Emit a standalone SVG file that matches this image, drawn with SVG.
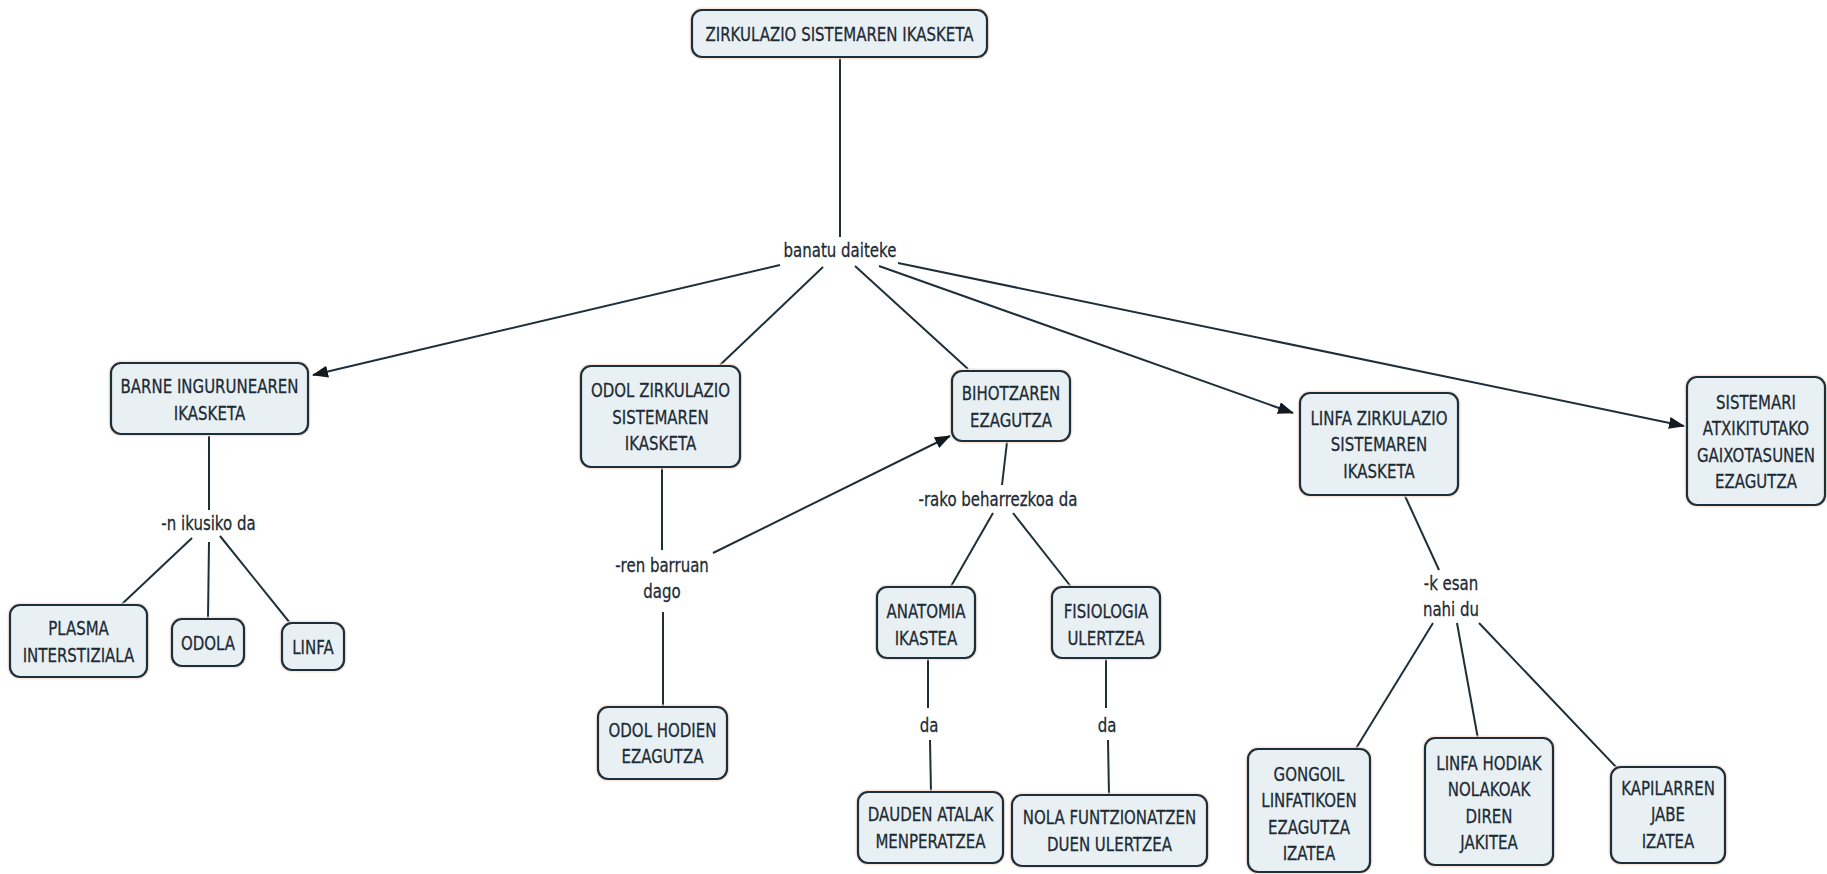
<svg xmlns="http://www.w3.org/2000/svg" width="1827" height="874" viewBox="0 0 1827 874">
  <style>
    .box { fill: #e8f0f4; stroke: #1d2f3a; stroke-width: 2.2; }
    .halo { fill: none; stroke: #f6dccf; stroke-width: 5; opacity: 0.7; }
    .t { font-family: "DejaVu Sans", "Liberation Sans", sans-serif; font-size: 20px; fill: #1c2a33; stroke: #1c2a33; stroke-width: 0.3; text-anchor: middle; }
    .c { fill: none; stroke: #1f2f38; stroke-width: 2; }
  </style>
  <defs>
    <marker id="arrow" markerUnits="userSpaceOnUse" markerWidth="16" markerHeight="12" viewBox="0 0 16 12" refX="15" refY="6" orient="auto">
      <path d="M0,0 L16,6 L0,12 z" fill="#111a20"/>
    </marker>
  </defs>
  <rect width="1827" height="874" fill="#ffffff"/>

  <!-- connectors -->
  <g id="connectors">
    <path class="c" d="M840,57 L840,237"/>
    <path class="c" d="M780,265 L313,375" marker-end="url(#arrow)"/>
    <path class="c" d="M823,267 L720,365"/>
    <path class="c" d="M855,266 L968,369"/>
    <path class="c" d="M879,266 L1293,413" marker-end="url(#arrow)"/>
    <path class="c" d="M898,263 L1684,426" marker-end="url(#arrow)"/>
    <path class="c" d="M209,436 L209,510"/>
    <path class="c" d="M192,538 L122,604"/>
    <path class="c" d="M209,542 L208,619"/>
    <path class="c" d="M220,536 L290,623"/>
    <path class="c" d="M662,468 L662,550"/>
    <path class="c" d="M663,612 L663,707"/>
    <path class="c" d="M713,553 L950,436" marker-end="url(#arrow)"/>
    <path class="c" d="M1007,442 L1002,485"/>
    <path class="c" d="M993,513 L950,588"/>
    <path class="c" d="M1013,513 L1072,588"/>
    <path class="c" d="M928,659 L928,708"/>
    <path class="c" d="M930,740 L931,793"/>
    <path class="c" d="M1106,659 L1106,708"/>
    <path class="c" d="M1108,740 L1109,796"/>
    <path class="c" d="M1405,496 L1439,570"/>
    <path class="c" d="M1433,623 L1355,750"/>
    <path class="c" d="M1457,623 L1478,739"/>
    <path class="c" d="M1479,623 L1617,768"/>
  </g>

  <!-- linking phrases -->
  <g id="link-banatu"><text class="t" transform="translate(840 257) scale(.75 1)">banatu daiteke</text></g>
  <g id="link-ikusiko"><text class="t" transform="translate(208.5 530) scale(.75 1)">-n ikusiko da</text></g>
  <g id="link-barruan"><text class="t" transform="translate(662 0) scale(.75 1)"><tspan x="0" y="572">-ren barruan</tspan><tspan x="0" y="598">dago</tspan></text></g>
  <g id="link-beharrezkoa"><text class="t" transform="translate(998 506) scale(.75 1)">-rako beharrezkoa da</text></g>
  <g id="link-da1"><text class="t" transform="translate(929 732) scale(.75 1)">da</text></g>
  <g id="link-da2"><text class="t" transform="translate(1107 732) scale(.75 1)">da</text></g>
  <g id="link-esan"><text class="t" transform="translate(1451 0) scale(.75 1)"><tspan x="0" y="590">-k esan</tspan><tspan x="0" y="616">nahi du</tspan></text></g>

  <!-- concepts -->
  <g id="n-zirkulazio">
    <rect class="halo" x="692" y="10" width="295" height="47" rx="10"/>
    <rect class="box" x="692" y="10" width="295" height="47" rx="10"/>
    <text class="t" transform="translate(839.5 41) scale(.75 1)">ZIRKULAZIO SISTEMAREN IKASKETA</text>
  </g>

  <g id="n-barne">
    <rect class="halo" x="111" y="363" width="197" height="71" rx="10"/>
    <rect class="box" x="111" y="363" width="197" height="71" rx="10"/>
    <text class="t" transform="translate(209.5 0) scale(.75 1)"><tspan x="0" y="393">BARNE INGURUNEAREN</tspan><tspan x="0" y="420">IKASKETA</tspan></text>
  </g>

  <g id="n-plasma">
    <rect class="halo" x="10" y="605" width="137" height="72" rx="10"/>
    <rect class="box" x="10" y="605" width="137" height="72" rx="10"/>
    <text class="t" transform="translate(78.5 0) scale(.75 1)"><tspan x="0" y="635">PLASMA</tspan><tspan x="0" y="662">INTERSTIZIALA</tspan></text>
  </g>

  <g id="n-odola">
    <rect class="halo" x="172" y="619" width="72" height="47" rx="10"/>
    <rect class="box" x="172" y="619" width="72" height="47" rx="10"/>
    <text class="t" transform="translate(208 650) scale(.75 1)">ODOLA</text>
  </g>

  <g id="n-linfa">
    <rect class="halo" x="282" y="623" width="62" height="47" rx="10"/>
    <rect class="box" x="282" y="623" width="62" height="47" rx="10"/>
    <text class="t" transform="translate(313 654) scale(.75 1)">LINFA</text>
  </g>

  <g id="n-odol-zirkulazio">
    <rect class="halo" x="581" y="366" width="159" height="101" rx="10"/>
    <rect class="box" x="581" y="366" width="159" height="101" rx="10"/>
    <text class="t" transform="translate(660.5 0) scale(.75 1)"><tspan x="0" y="397">ODOL ZIRKULAZIO</tspan><tspan x="0" y="424">SISTEMAREN</tspan><tspan x="0" y="450">IKASKETA</tspan></text>
  </g>

  <g id="n-odol-hodien">
    <rect class="halo" x="598" y="707" width="129" height="72" rx="10"/>
    <rect class="box" x="598" y="707" width="129" height="72" rx="10"/>
    <text class="t" transform="translate(662.5 0) scale(.75 1)"><tspan x="0" y="737">ODOL HODIEN</tspan><tspan x="0" y="763">EZAGUTZA</tspan></text>
  </g>

  <g id="n-bihotzaren">
    <rect class="halo" x="952" y="371" width="118" height="70" rx="10"/>
    <rect class="box" x="952" y="371" width="118" height="70" rx="10"/>
    <text class="t" transform="translate(1011 0) scale(.75 1)"><tspan x="0" y="400">BIHOTZAREN</tspan><tspan x="0" y="427">EZAGUTZA</tspan></text>
  </g>

  <g id="n-anatomia">
    <rect class="halo" x="877" y="587" width="98" height="71" rx="10"/>
    <rect class="box" x="877" y="587" width="98" height="71" rx="10"/>
    <text class="t" transform="translate(926 0) scale(.75 1)"><tspan x="0" y="618">ANATOMIA</tspan><tspan x="0" y="645">IKASTEA</tspan></text>
  </g>

  <g id="n-fisiologia">
    <rect class="halo" x="1052" y="587" width="108" height="71" rx="10"/>
    <rect class="box" x="1052" y="587" width="108" height="71" rx="10"/>
    <text class="t" transform="translate(1106 0) scale(.75 1)"><tspan x="0" y="618">FISIOLOGIA</tspan><tspan x="0" y="645">ULERTZEA</tspan></text>
  </g>

  <g id="n-dauden">
    <rect class="halo" x="858" y="792" width="145" height="71" rx="10"/>
    <rect class="box" x="858" y="792" width="145" height="71" rx="10"/>
    <text class="t" transform="translate(930.5 0) scale(.75 1)"><tspan x="0" y="821">DAUDEN ATALAK</tspan><tspan x="0" y="848">MENPERATZEA</tspan></text>
  </g>

  <g id="n-nola">
    <rect class="halo" x="1012" y="795" width="195" height="71" rx="10"/>
    <rect class="box" x="1012" y="795" width="195" height="71" rx="10"/>
    <text class="t" transform="translate(1109.5 0) scale(.75 1)"><tspan x="0" y="824">NOLA FUNTZIONATZEN</tspan><tspan x="0" y="851">DUEN ULERTZEA</tspan></text>
  </g>

  <g id="n-linfa-zirkulazio">
    <rect class="halo" x="1300" y="393" width="158" height="102" rx="10"/>
    <rect class="box" x="1300" y="393" width="158" height="102" rx="10"/>
    <text class="t" transform="translate(1379 0) scale(.75 1)"><tspan x="0" y="425">LINFA ZIRKULAZIO</tspan><tspan x="0" y="451.5">SISTEMAREN</tspan><tspan x="0" y="478">IKASKETA</tspan></text>
  </g>

  <g id="n-sistemari">
    <rect class="halo" x="1687" y="377" width="138" height="128" rx="10"/>
    <rect class="box" x="1687" y="377" width="138" height="128" rx="10"/>
    <text class="t" transform="translate(1756 0) scale(.75 1)"><tspan x="0" y="409">SISTEMARI</tspan><tspan x="0" y="435.5">ATXIKITUTAKO</tspan><tspan x="0" y="462">GAIXOTASUNEN</tspan><tspan x="0" y="488.5">EZAGUTZA</tspan></text>
  </g>

  <g id="n-gongoil">
    <rect class="halo" x="1248" y="749" width="122" height="123" rx="10"/>
    <rect class="box" x="1248" y="749" width="122" height="123" rx="10"/>
    <text class="t" transform="translate(1309 0) scale(.75 1)"><tspan x="0" y="781">GONGOIL</tspan><tspan x="0" y="807.5">LINFATIKOEN</tspan><tspan x="0" y="834">EZAGUTZA</tspan><tspan x="0" y="860.5">IZATEA</tspan></text>
  </g>

  <g id="n-linfa-hodiak">
    <rect class="halo" x="1425" y="738" width="128" height="127" rx="10"/>
    <rect class="box" x="1425" y="738" width="128" height="127" rx="10"/>
    <text class="t" transform="translate(1489 0) scale(.75 1)"><tspan x="0" y="770">LINFA HODIAK</tspan><tspan x="0" y="796.5">NOLAKOAK</tspan><tspan x="0" y="823">DIREN</tspan><tspan x="0" y="849.5">JAKITEA</tspan></text>
  </g>

  <g id="n-kapilarren">
    <rect class="halo" x="1611" y="767" width="114" height="96" rx="10"/>
    <rect class="box" x="1611" y="767" width="114" height="96" rx="10"/>
    <text class="t" transform="translate(1668 0) scale(.75 1)"><tspan x="0" y="795">KAPILARREN</tspan><tspan x="0" y="821.5">JABE</tspan><tspan x="0" y="848">IZATEA</tspan></text>
  </g>
</svg>
